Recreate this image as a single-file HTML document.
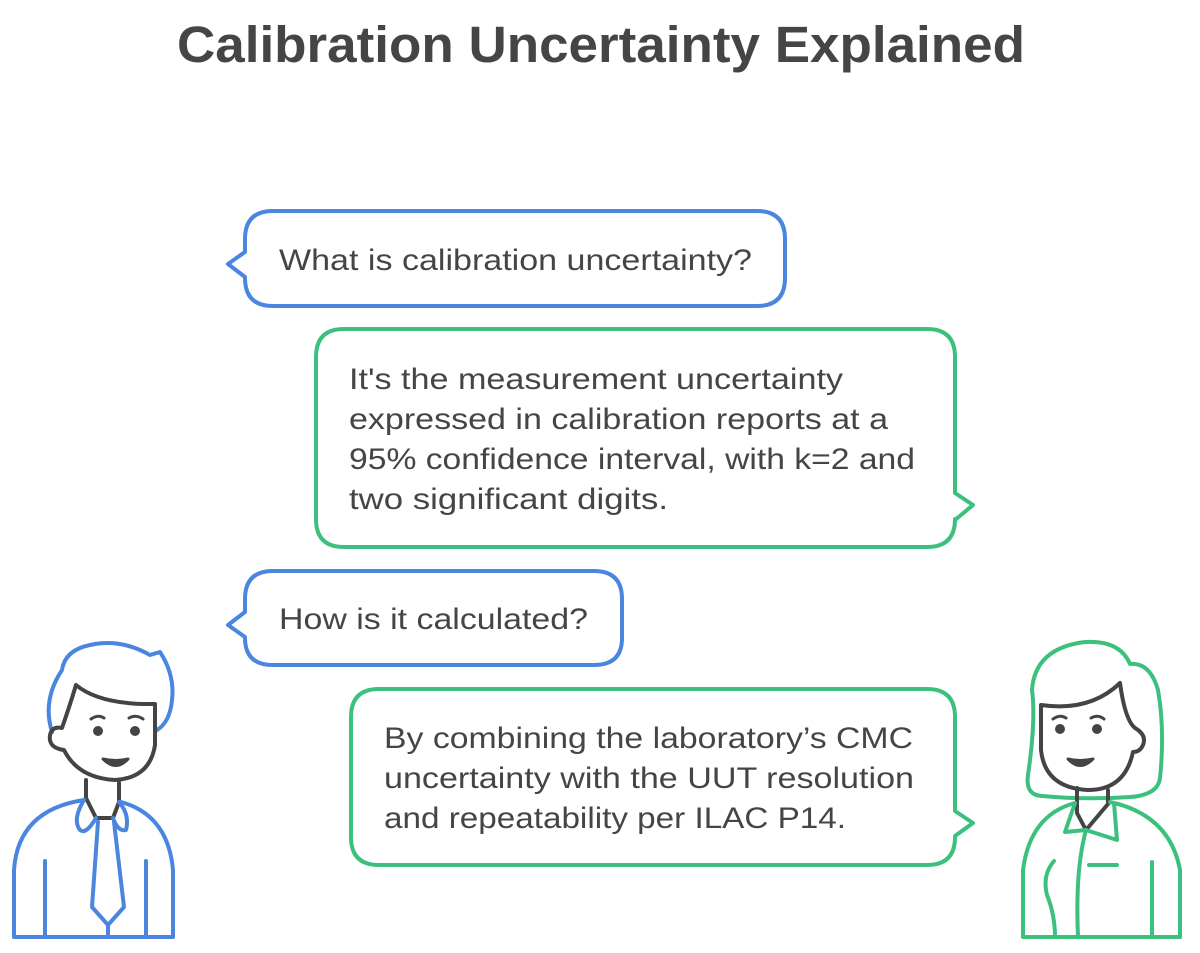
<!DOCTYPE html>
<html><head><meta charset="utf-8"><style>
html,body{margin:0;padding:0;background:#fff;}
svg{display:block;}
text{font-family:"Liberation Sans",sans-serif;fill:#454545;}
</style></head><body>
<svg width="1200" height="953" viewBox="0 0 1200 953" xmlns="http://www.w3.org/2000/svg">
<text x="177" y="62" textLength="848" lengthAdjust="spacingAndGlyphs" font-size="51" font-weight="bold" fill="#444">Calibration Uncertainty Explained</text>

<g fill="none" stroke-width="4" stroke-linejoin="round" stroke-linecap="round">
<path stroke="#4a86e0" d="M273,211 H757 Q785,211 785,239 V278 Q785,306 757,306 H273 Q245,306 245,278 V277 L228,264 L245,252 V239 Q245,211 273,211 Z"/>
<path stroke="#3cc07e" d="M344,329 H927 Q955,329 955,357 V493 L973,505 L955,520 V519 Q955,547 927,547 H344 Q316,547 316,519 V357 Q316,329 344,329 Z"/>
<path stroke="#4a86e0" d="M273,571 H594 Q622,571 622,599 V638 Q622,665 594,665 H273 Q245,665 245,638 V637 L228,625 L245,612 V599 Q245,571 273,571 Z"/>
<path stroke="#3cc07e" d="M379,689 H927 Q955,689 955,717 V811 L973,823 L955,836 V837 Q955,865 927,865 H379 Q351,865 351,837 V717 Q351,689 379,689 Z"/>
</g>

<g font-size="30" lengthAdjust="spacingAndGlyphs">
<text x="279" y="270" textLength="473" lengthAdjust="spacingAndGlyphs">What is calibration uncertainty?</text>
<text x="349" y="389" textLength="494" lengthAdjust="spacingAndGlyphs">It's the measurement uncertainty</text>
<text x="349" y="429" textLength="539" lengthAdjust="spacingAndGlyphs">expressed in calibration reports at a</text>
<text x="349" y="469" textLength="566" lengthAdjust="spacingAndGlyphs">95% confidence interval, with k=2 and</text>
<text x="349" y="509" textLength="319" lengthAdjust="spacingAndGlyphs">two significant digits.</text>
<text x="279" y="629" textLength="309" lengthAdjust="spacingAndGlyphs">How is it calculated?</text>
<text x="384" y="748" textLength="529" lengthAdjust="spacingAndGlyphs">By combining the laboratory’s CMC</text>
<text x="384" y="788" textLength="530" lengthAdjust="spacingAndGlyphs">uncertainty with the UUT resolution</text>
<text x="384" y="828" textLength="462" lengthAdjust="spacingAndGlyphs">and repeatability per ILAC P14.</text>
</g>

<!-- man -->
<g fill="none" stroke-width="4" stroke-linejoin="round" stroke-linecap="round">
<path stroke="#4a86e0" d="M52,732 Q42,700 62,670 Q65,650 90,645 Q120,638 150,655 L160,652 Q175,675 172,700 Q170,722 157,730"/>
<path stroke="#444" d="M76,685 Q100,705 155,704 V745 Q150,778 115,780 Q78,778 64,750 Q48,748 50,735 Q52,726 62,728 Q70,705 76,685 Z"/>
<circle cx="98" cy="731" r="5" fill="#444" stroke="none"/>
<circle cx="135" cy="731" r="5" fill="#444" stroke="none"/>
<path stroke="#444" stroke-width="3" d="M91,719 Q98,714 104,718 M129,718 Q136,714 143,719"/>
<path stroke="#444" stroke-width="3" fill="#444" d="M103,759 Q116,772 128,759 Q116,762 103,759 Z"/>
<path stroke="#444" d="M86,780 V798 L96,818 H113 L119,802 V783"/>
<path stroke="#4a86e0" d="M14,937 V870 Q18,810 84,800 M121,802 Q168,815 173,870 V937 H14"/>
<path stroke="#4a86e0" d="M84,800 Q72,820 80,830 Q86,835 96,818 M119,802 Q130,815 126,830 Q118,832 113,818"/>
<path stroke="#4a86e0" d="M98,822 L92,907 L108,925 L124,907 L114,822 M108,925 V937"/>
<path stroke="#4a86e0" d="M45,861 V937 M146,861 V937"/>
</g>

<!-- woman -->
<g fill="none" stroke-width="4" stroke-linejoin="round" stroke-linecap="round">
<path stroke="#3cc07e" d="M1042,796 Q1025,795 1028,775 Q1036,720 1032,690 Q1035,648 1085,642 Q1120,640 1130,664 Q1150,662 1158,690 Q1165,730 1160,778 Q1158,795 1130,797 Q1085,800 1042,796 Z"/>
<path stroke="#444" fill="#fff" d="M1041,705 Q1090,712 1120,683 Q1125,720 1135,728 Q1147,735 1143,745 Q1140,752 1133,752 Q1125,790 1088,790 Q1045,788 1041,750 Z"/>
<circle cx="1060" cy="729" r="5" fill="#444" stroke="none"/>
<circle cx="1097" cy="729" r="5" fill="#444" stroke="none"/>
<path stroke="#444" stroke-width="3" d="M1053,719 Q1060,714 1066,718 M1091,718 Q1098,714 1104,719"/>
<path stroke="#444" stroke-width="3" fill="#444" d="M1068,759 Q1080,772 1093,759 Q1080,762 1068,759 Z"/>
<path stroke="#444" d="M1077,788 V813 L1086,830 L1108,804 V790"/>
<path stroke="#3cc07e" d="M1023,937 V870 Q1030,815 1075,803 M1110,802 Q1170,815 1180,870 V937 H1023"/>
<path stroke="#3cc07e" d="M1075,803 L1065,832 L1086,830 L1117,840 L1114,803 M1086,830 Q1075,870 1078,937"/>
<path stroke="#3cc07e" d="M1054,861 Q1042,875 1047,895 Q1055,915 1055,937 M1089,865 H1117 M1152,862 V937"/>
</g>
</svg>
</body></html>
